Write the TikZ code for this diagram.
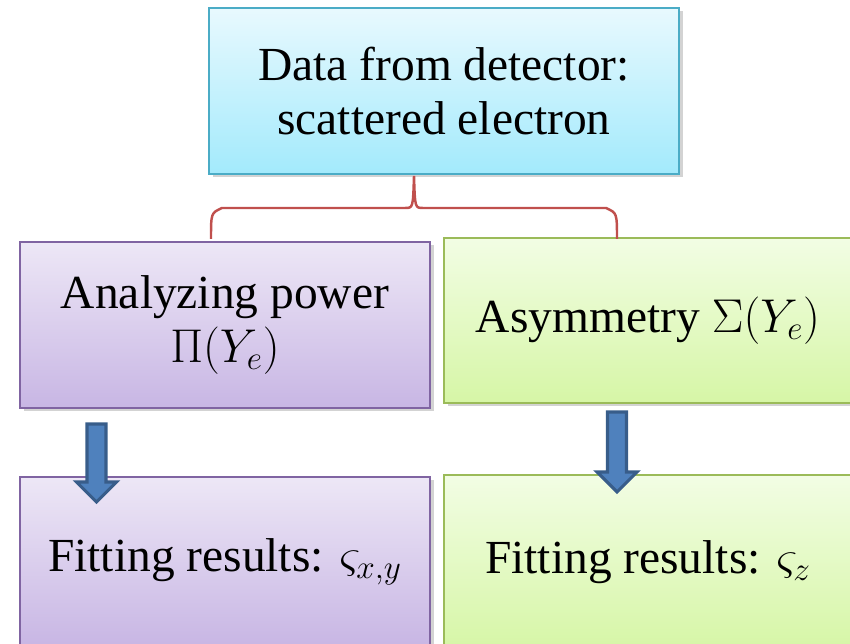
\RequirePackage{fix-cm}
\documentclass[tikz,border=0pt]{standalone}
\usepackage{fontspec}
\setmainfont{Liberation Serif}
\usepackage{amsmath}
\usepackage{xcolor}
\usepackage{tikz}
\usetikzlibrary{shadows}

\definecolor{cyanline}{RGB}{75,172,198}
\definecolor{cyantop}{RGB}{232,249,254}
\definecolor{cyanbot}{RGB}{163,234,252}
\definecolor{violetline}{RGB}{128,100,162}
\definecolor{violettop}{RGB}{237,231,246}
\definecolor{violetbot}{RGB}{200,182,228}
\definecolor{greenline}{RGB}{155,187,89}
\definecolor{greentop}{RGB}{242,253,228}
\definecolor{greenbot}{RGB}{214,246,166}
\definecolor{bracered}{RGB}{192,80,77}
\definecolor{arrowfill}{RGB}{79,129,189}
\definecolor{arrowline}{RGB}{56,93,138}

\tikzset{
  box/.style={rectangle, line width=1.2pt, align=center, inner sep=0pt,
    font=\fontsize{27}{31}\selectfont,
    drop shadow={shadow xshift=0.07cm, shadow yshift=-0.07cm, opacity=0.35}},
  cyanbox/.style={box, draw=cyanline, top color=cyantop, bottom color=cyanbot},
  violetbox/.style={box, draw=violetline, top color=violettop, bottom color=violetbot},
  greenbox/.style={box, draw=greenline, top color=greentop, bottom color=greenbot},
  blockarrow/.style={fill=arrowfill, draw=arrowline, line width=1.8pt, line join=miter}
}

\begin{document}
\begin{tikzpicture}
  \useasboundingbox (0,0) rectangle (17,12.88);
  \begin{scope}
    \clip (0,0) rectangle (17,12.88);
    % boxes
    \node[cyanbox, minimum width=9.4cm, minimum height=3.32cm] (detector) at (8.88,11.06)
      {Data from detector:\\scattered electron};
    \node[violetbox, minimum width=8.2cm, minimum height=3.32cm] (power) at (4.50,6.38)
      {Analyzing power\\$\Pi(Y_e)$};
    \node[greenbox, minimum width=8.16cm, minimum height=3.30cm] (asym) at (12.96,6.47)
      {Asymmetry $\Sigma(Y_e)$};
    \node[violetbox, minimum width=8.2cm, minimum height=3.38cm] (fitxy) at (4.50,1.65)
      {Fitting results: $\varsigma_{x,y}$};
    \node[greenbox, minimum width=8.16cm, minimum height=3.50cm] (fitz) at (12.96,1.63)
      {Fitting results: $\varsigma_z$};

    % brace
    \coordinate (bl) at (4.22,8.10);
    \coordinate (bt) at (8.28,9.36);
    \coordinate (br) at (12.34,8.10);
    \draw[bracered, line width=1.4pt]
      (bl) .. controls (4.22,8.62) .. (4.44,8.72) -- (8.10,8.72)
      .. controls (8.26,8.72) .. (bt)
      .. controls (8.30,8.72) .. (8.46,8.72) -- (12.12,8.72)
      .. controls (12.34,8.62) .. (br);

    % arrows
    \coordinate (la) at (1.93,4.40);
    \coordinate (ra) at (12.34,4.64);
    \draw[blockarrow] (la) ++(-0.19,0) -- ++(0.38,0) -- ++(0,-1.16) -- ++(0.21,0)
      -- ++(-0.40,-0.40) -- ++(-0.40,0.40) -- ++(0.21,0) -- cycle;
    \draw[blockarrow] (ra) ++(-0.19,0) -- ++(0.38,0) -- ++(0,-1.2) -- ++(0.21,0)
      -- ++(-0.40,-0.40) -- ++(-0.40,0.40) -- ++(0.21,0) -- cycle;
  \end{scope}
\end{tikzpicture}
\end{document}
